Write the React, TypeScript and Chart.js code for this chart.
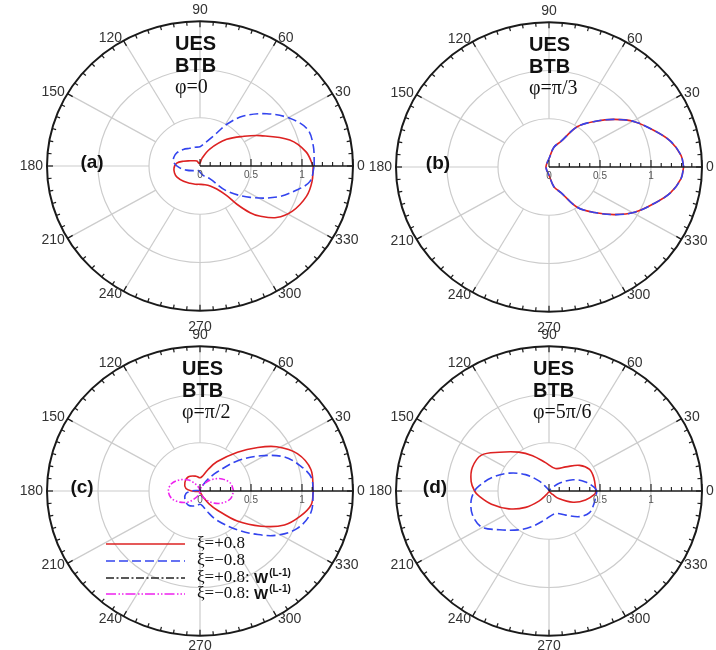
import React, { useEffect, useRef } from "react";
import { Chart, registerables } from "chart.js";

Chart.register(...registerables);

// ---------------- data ----------------
const angleTickDeg = [0, 30, 60, 90, 120, 150, 180, 210, 240, 270, 300, 330];
const angleTickLabels = ["0", "30", "60", "90", "120", "150", "180", "210", "240", "270", "300", "330"];
const radialTickValues = [0, 0.5, 1];
const radialTickLabels = ["0", "0.5", "1"];
const gridRadii = [0.5, 1];
const outerR = 1.5;

const panelTags = ["(a)", "(b)", "(c)", "(d)"];
const titleLine1 = "UES";
const titleLine2 = "BTB";
const panelPhi = ["φ=0", "φ=π/3", "φ=π/2", "φ=5π/6"];

const legendLabels = ["ξ=+0.8", "ξ=−0.8", "ξ=+0.8: ", "ξ=−0.8: "];
const legendHasW = [false, false, true, true];

// panel (a) phi = 0   (theta in degrees, r in radial units)
const aRedTheta = [0, 8, 17, 28, 35.5, 46.6, 61.4, 75.8, 90, 110, 120.6, 138.4, 150.7, 163, 172.6, 184.2, 196, 207, 224.6, 241.4, 255.8, 270, 284.2, 295.7, 304.5, 310.4, 312.4, 315.4, 318.4, 324.5, 332.7, 343.2, 351.6, 360];
const aRedR = [1.11, 1.05, 0.92, 0.67, 0.53, 0.38, 0.2, 0.084, 0.03, 0.03, 0.06, 0.082, 0.11, 0.17, 0.23, 0.255, 0.26, 0.253, 0.226, 0.204, 0.195, 0.19, 0.2, 0.23, 0.29, 0.4, 0.537, 0.69, 0.78, 0.92, 1.02, 1.09, 1.11, 1.11];
const aBlueTheta = [0, 10.5, 20, 29.3, 39.6, 50.6, 58.5, 67.2, 78.7, 90, 104.2, 118.6, 133.4, 148.6, 161, 171.6, 183.2, 197.9, 216.5, 236.5, 255, 270, 289, 306.5, 315.4, 326.6, 336.9, 345.3, 351.6, 360];
const aBlueR = [1.12, 1.13, 1.12, 1.01, 0.85, 0.67, 0.51, 0.335, 0.243, 0.2, 0.2, 0.209, 0.237, 0.264, 0.272, 0.26, 0.21, 0.14, 0.081, 0.052, 0.052, 0.063, 0.105, 0.166, 0.37, 0.59, 0.82, 0.98, 1.09, 1.12];

// panel (b) phi = pi/3
const bRedTheta = [0, 5.3, 12.7, 20, 29.3, 37.5, 46.6, 56.5, 66.2, 76.8, 90, 110, 135, 160, 180, 200, 225, 250, 270, 283.2, 293.8, 303.5, 313.4, 322.5, 330.7, 340, 347.3, 354.7, 360];
const bRedR = [1.32, 1.3, 1.22, 1.1, 0.96, 0.81, 0.65, 0.5, 0.29, 0.21, 0.085, 0.05, 0.035, 0.03, 0.03, 0.03, 0.035, 0.05, 0.085, 0.21, 0.29, 0.5, 0.65, 0.81, 0.96, 1.1, 1.22, 1.3, 1.32];
const bBlueTheta = [0, 5.3, 12.7, 20, 29.3, 37.5, 46.6, 56.5, 66.2, 76.8, 90, 110, 135, 160, 180, 200, 225, 250, 270, 283.2, 293.8, 303.5, 313.4, 322.5, 330.7, 340, 347.3, 354.7, 360];
const bBlueR = [1.32, 1.3, 1.22, 1.1, 0.96, 0.81, 0.65, 0.5, 0.29, 0.21, 0.085, 0.05, 0.035, 0.03, 0.03, 0.03, 0.035, 0.05, 0.085, 0.21, 0.29, 0.5, 0.65, 0.81, 0.96, 1.1, 1.22, 1.3, 1.32];

// panel (c) phi = pi/2
const cRedTheta = [0, 11.6, 22.1, 31.4, 38.5, 47.6, 61.4, 71, 80.5, 90, 104.2, 127.4, 149.6, 169.5, 180, 190, 210, 240, 270, 290, 295.7, 303.5, 310.4, 319.5, 328.6, 336.9, 345.3, 352.6, 360];
const cRedR = [1.11, 1.11, 1.03, 0.88, 0.725, 0.545, 0.345, 0.23, 0.158, 0.137, 0.158, 0.186, 0.172, 0.14, 0.08, 0.03, 0.01, 0.01, 0.01, 0.03, 0.073, 0.156, 0.258, 0.48, 0.7, 0.9, 1.02, 1.1, 1.11];
const cBlueTheta = [0, 7.4, 14.7, 23.1, 31.4, 40.5, 49.6, 56.5, 64.3, 70, 90, 120, 150, 170, 180, 190.5, 210.4, 232.6, 255.8, 270, 279.5, 289, 298.6, 312.4, 321.5, 328.6, 337.9, 348.4, 360];
const cBlueR = [1.11, 1.1, 1.02, 0.9, 0.7, 0.48, 0.258, 0.156, 0.073, 0.03, 0.01, 0.01, 0.01, 0.03, 0.08, 0.14, 0.172, 0.186, 0.158, 0.137, 0.158, 0.23, 0.345, 0.545, 0.725, 0.88, 1.03, 1.11, 1.11];
const cMagentaTheta = [0, 15, 30, 45, 60, 75, 90, 105, 120, 135, 150, 165, 180, 195, 210, 225, 240, 255, 270, 285, 300, 315, 330, 345, 360];
const cMagentaR = [0.33, 0.31, 0.25, 0.17, 0.09, 0.03, 0.0, 0.03, 0.08, 0.16, 0.23, 0.29, 0.31, 0.29, 0.23, 0.16, 0.08, 0.03, 0.0, 0.03, 0.09, 0.17, 0.25, 0.31, 0.33];

// panel (d) phi = 5pi/6
const dRedTheta = [0, 16.9, 29.3, 41.6, 56.5, 74.9, 96.6, 113.8, 126.4, 140.4, 150.7, 162.1, 172.6, 180, 184.2, 193.7, 205.2, 216.5, 226.6, 235, 260, 290, 315, 320.5, 333.7, 345.3, 355.8, 360];
const dRedR = [0.46, 0.46, 0.456, 0.4, 0.3, 0.242, 0.296, 0.4, 0.5, 0.63, 0.76, 0.79, 0.77, 0.73, 0.69, 0.58, 0.434, 0.285, 0.144, 0.05, 0.01, 0.01, 0.05, 0.123, 0.263, 0.37, 0.45, 0.46];
const dBlueTheta = [0, 4.2, 14.7, 26.2, 39.5, 45, 70, 100, 125, 133.4, 143.5, 154.8, 166.3, 175.8, 180, 187.4, 197.9, 209.3, 219.6, 233.6, 246.2, 263.4, 285.1, 303.5, 318.4, 330.7, 343.1, 360];
const dBlueR = [0.47, 0.45, 0.37, 0.263, 0.123, 0.05, 0.01, 0.01, 0.05, 0.144, 0.285, 0.434, 0.58, 0.69, 0.73, 0.77, 0.79, 0.76, 0.63, 0.5, 0.4, 0.296, 0.242, 0.3, 0.4, 0.456, 0.46, 0.47];

// ---------------- styles / layout ----------------
const PPU_X = 102; // pixels per radial unit, horizontally
const PPU_Y = 96.5; // the reference is slightly squashed vertically
const CW = 400;
const CH = 340;
const RED = "#dd2222";
const BLUE = "#3344ee";
const BLACK = "#222222";
const MAGENTA = "#ee22ee";
const legendColors = [RED, BLUE, BLACK, MAGENTA];
const legendDashes = [[], [9, 4], [8, 2.5, 2, 2.5], [10, 2.5, 1.5, 2, 1.5, 2]];

const SANS = '"Liberation Sans", Arial, Helvetica, sans-serif';
const SERIF = '"Liberation Serif", "Times New Roman", serif';

const toXY = (th: number[], r: number[]) =>
  th.map((t, i) => ({ x: r[i] * Math.cos((t * Math.PI) / 180), y: r[i] * Math.sin((t * Math.PI) / 180) }));

const curve = (label: string, th: number[], r: number[], color: string, dash: number[], order: number) => ({
  label,
  data: toXY(th, r),
  showLine: true,
  borderColor: color,
  backgroundColor: color,
  borderWidth: 1.6,
  borderDash: dash,
  pointRadius: 0,
  pointHoverRadius: 0,
  tension: 0.35,
  fill: false,
  order,
});

const panels = [
  {
    cx: 200, cy: 166, tagDx: -108, titleDx: -25, bottomGap: 9, legend: false,
    datasets: [
      curve("ξ=+0.8", aRedTheta, aRedR, RED, [], 2),
      curve("ξ=−0.8", aBlueTheta, aBlueR, BLUE, [9, 4], 1),
    ],
  },
  {
    cx: 549, cy: 167, tagDx: -111, titleDx: -20, bottomGap: 9, legend: false,
    datasets: [
      curve("ξ=+0.8", bRedTheta, bRedR, RED, [], 2),
      curve("ξ=−0.8", bBlueTheta, bBlueR, BLUE, [9, 4], 1),
    ],
  },
  {
    cx: 200, cy: 491, tagDx: -118, titleDx: -18, bottomGap: 3, legend: true,
    datasets: [
      curve("ξ=+0.8", cRedTheta, cRedR, RED, [], 3),
      curve("ξ=−0.8", cBlueTheta, cBlueR, BLUE, [9, 4], 2),
      curve("ξ=−0.8: W(L-1)", cMagentaTheta, cMagentaR, MAGENTA, [6, 2, 1.5, 2, 1.5, 2], 1),
    ],
  },
  {
    cx: 549, cy: 491, tagDx: -114, titleDx: -16, bottomGap: 3, legend: false,
    datasets: [
      curve("ξ=+0.8", dRedTheta, dRedR, RED, [], 2),
      curve("ξ=−0.8", dBlueTheta, dBlueR, BLUE, [9, 4], 1),
    ],
  },
];

function geom(chart: any) {
  const xs = chart.scales.x;
  const ys = chart.scales.y;
  const cx = xs.getPixelForValue(0);
  const cy = ys.getPixelForValue(0);
  const kx = xs.getPixelForValue(1) - cx;
  const ky = cy - ys.getPixelForValue(1);
  return { cx, cy, kx, ky };
}

function makeDecor(idx: number) {
  const p = panels[idx];
  return {
    id: "polarDecor" + idx,
    beforeDatasetsDraw(chart: any) {
      const { ctx } = chart;
      const { cx, cy, kx, ky } = geom(chart);
      ctx.save();
      ctx.strokeStyle = "#cccccc";
      ctx.lineWidth = 1.2;
      ctx.setLineDash([]);
      gridRadii.forEach((r) => {
        ctx.beginPath();
        ctx.ellipse(cx, cy, r * kx, r * ky, 0, 0, Math.PI * 2);
        ctx.stroke();
      });
      angleTickDeg.forEach((a) => {
        if (a === 0) return;
        const t = (a * Math.PI) / 180;
        ctx.beginPath();
        ctx.moveTo(cx + gridRadii[0] * kx * Math.cos(t), cy - gridRadii[0] * ky * Math.sin(t));
        ctx.lineTo(cx + outerR * kx * Math.cos(t), cy - outerR * ky * Math.sin(t));
        ctx.stroke();
      });
      ctx.restore();
    },
    afterDatasetsDraw(chart: any) {
      const { ctx } = chart;
      const { cx, cy, kx, ky } = geom(chart);
      const Rx = outerR * kx;
      const Ry = outerR * ky;
      ctx.save();
      ctx.setLineDash([]);
      // outer circle
      ctx.strokeStyle = "#1a1a1a";
      ctx.lineWidth = 2;
      ctx.beginPath();
      ctx.ellipse(cx, cy, Rx, Ry, 0, 0, Math.PI * 2);
      ctx.stroke();
      // outer ticks every 5 degrees
      ctx.lineWidth = 1.2;
      for (let d = 0; d < 360; d += 5) {
        const t = (d * Math.PI) / 180;
        const len = d % 30 === 0 ? 6 : 4;
        const c = Math.cos(t);
        const s = Math.sin(t);
        ctx.beginPath();
        ctx.moveTo(cx + Rx * c, cy - Ry * s);
        ctx.lineTo(cx + (Rx - len) * c, cy - (Ry - len) * s);
        ctx.stroke();
      }
      // radial axis
      ctx.lineWidth = 1.6;
      ctx.beginPath();
      ctx.moveTo(cx, cy);
      ctx.lineTo(cx + Rx, cy);
      ctx.stroke();
      ctx.lineWidth = 1.1;
      for (let i = 0; i <= 15; i++) {
        const x = cx + (i / 10) * kx;
        const len = i % 5 === 0 ? 7 : 4;
        ctx.beginPath();
        ctx.moveTo(x, cy);
        ctx.lineTo(x, cy - len);
        ctx.stroke();
      }
      // radial labels
      ctx.fillStyle = "#555555";
      ctx.font = `10px ${SANS}`;
      ctx.textAlign = "center";
      ctx.textBaseline = "top";
      radialTickValues.forEach((v, i) => {
        ctx.fillText(radialTickLabels[i], cx + v * kx, cy + 4);
      });
      // angle labels
      ctx.fillStyle = "#333333";
      ctx.font = `14px ${SANS}`;
      angleTickDeg.forEach((a, i) => {
        const t = (a * Math.PI) / 180;
        const c = Math.cos(t);
        const s = Math.sin(t);
        let gap = 3;
        if (a === 0 || a === 180) gap = 4;
        if (a === 90) gap = 4;
        if (a === 270) gap = p.bottomGap;
        const x = cx + (Rx + gap) * c;
        const y = cy - (Ry + gap) * s;
        if (a === 90) {
          ctx.textAlign = "center";
          ctx.textBaseline = "bottom";
        } else if (a === 270) {
          ctx.textAlign = "center";
          ctx.textBaseline = "top";
        } else {
          ctx.textAlign = c > 0 ? "left" : "right";
          ctx.textBaseline = "middle";
        }
        ctx.fillText(angleTickLabels[i], x, y);
      });
      // title block
      ctx.fillStyle = "#111111";
      ctx.textAlign = "left";
      ctx.textBaseline = "middle";
      ctx.font = `bold 20px ${SANS}`;
      ctx.fillText(titleLine1, cx + p.titleDx, cy - 122);
      ctx.fillText(titleLine2, cx + p.titleDx, cy - 100);
      ctx.font = `20px ${SERIF}`;
      ctx.fillText(panelPhi[idx], cx + p.titleDx, cy - 78);
      // panel tag
      ctx.font = `bold 19px ${SANS}`;
      ctx.textAlign = "center";
      ctx.fillText(panelTags[idx], cx + p.tagDx, cy - 3);
      // legend
      if (p.legend) {
        const rows = [53, 70, 87, 103];
        legendLabels.forEach((lab, i) => {
          const y = cy + rows[i];
          ctx.strokeStyle = legendColors[i];
          ctx.lineWidth = 1.6;
          ctx.setLineDash(legendDashes[i]);
          ctx.beginPath();
          ctx.moveTo(cx - 94, y);
          ctx.lineTo(cx - 15, y);
          ctx.stroke();
          ctx.setLineDash([]);
          ctx.fillStyle = "#111111";
          ctx.textAlign = "left";
          ctx.textBaseline = "middle";
          ctx.font = `17px ${SERIF}`;
          const tx = cx - 3;
          ctx.fillText(lab, tx, y);
          if (legendHasW[i]) {
            const w1 = ctx.measureText(lab).width;
            ctx.font = `bold 15px ${SANS}`;
            ctx.fillText("W", tx + w1, y + 1);
            const w2 = ctx.measureText("W").width;
            ctx.font = `bold 10px ${SANS}`;
            ctx.fillText("(L-1)", tx + w1 + w2 + 1, y - 5);
          }
        });
      }
      ctx.restore();
    },
  };
}

function Panel({ idx }: { idx: number }) {
  const ref = useRef<HTMLCanvasElement | null>(null);
  const p = panels[idx];
  useEffect(() => {
    if (!ref.current) return;
    const hx = CW / 2 / PPU_X;
    const hy = CH / 2 / PPU_Y;
    const chart = new Chart(ref.current, {
      type: "scatter",
      data: { datasets: p.datasets as any },
      options: {
        responsive: false,
        animation: false,
        events: [],
        layout: { padding: 0 },
        plugins: { legend: { display: false }, tooltip: { enabled: false } },
        scales: {
          x: { type: "linear", min: -hx, max: hx, display: false },
          y: { type: "linear", min: -hy, max: hy, display: false },
        },
      },
      plugins: [makeDecor(idx)],
    } as any);
    return () => chart.destroy();
  }, []);
  return (
    <canvas
      ref={ref}
      width={CW}
      height={CH}
      style={{ position: "absolute", left: p.cx - CW / 2, top: p.cy - CH / 2, width: CW, height: CH }}
    />
  );
}

export default function App() {
  return (
    <div
      style={{
        position: "fixed",
        left: 0,
        top: 0,
        width: 716,
        height: 650,
        overflow: "hidden",
        background: "#ffffff",
      }}
    >
      {panels.map((_, i) => (
        <Panel key={i} idx={i} />
      ))}
    </div>
  );
}
